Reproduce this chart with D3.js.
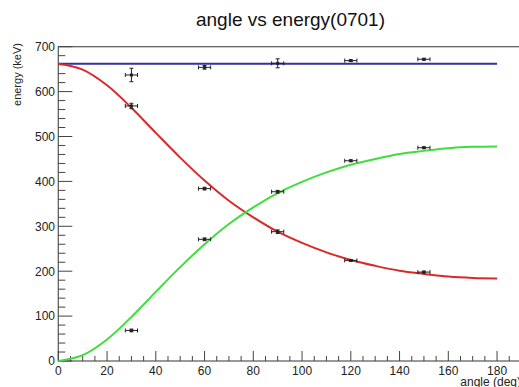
<!DOCTYPE html>
<html><head><meta charset="utf-8">
<script src="https://cdn.jsdelivr.net/npm/d3@7"></script>
<style>body{margin:0;background:#fff;overflow:hidden}svg{display:block;font-family:"Liberation Sans",Arial,sans-serif}</style>
</head><body><svg id="c" width="519" height="387"></svg>
<script>
// measured data points (angle in deg, energy in keV, errors)
const angles   = [30, 30, 30, 60, 60, 60, 90, 90, 90, 120, 120, 120, 150, 150, 150];
const energies = [637, 568, 68, 654, 384, 271, 663, 377, 288, 669, 446, 224, 672, 475, 198];
const angleErr = [2.5, 2.5, 2.5, 2.5, 2.5, 2.5, 2.5, 2.5, 2.5, 2.5, 2.5, 2.5, 2.5, 2.5, 2.5];
const energyErr= [15, 6, 3, 4, 3, 3, 10, 3, 4, 2, 2, 2, 2, 2, 2];
// fitted curves, every 10 deg
const curveAngles = [0,10,20,30,40,50,60,70,80,90,100,110,120,130,140,150,160,170,180];
const redCurve   = [662,649,614,564,508,453,402,357,320,288,263,242,225,212,201,194,188,185,184];
const greenCurve = [0,13,48,98,154,209,260,305,342,374,399,420,437,450,461,468,474,477,478];
const blueCurve  = [662,662,662,662,662,662,662,662,662,662,662,662,662,662,662,662,662,662,662];
const xTicks = [0,20,40,60,80,100,120,140,160,180];
const yTicks = [0,100,200,300,400,500,600,700];

const svg = d3.select("#c");
const x = d3.scaleLinear().domain([0,200]).range([58.3,545.8]);
const y = d3.scaleLinear().domain([0,700]).range([361,46.7]);

svg.append("text").attr("x",290.5).attr("y",26).attr("text-anchor","middle")
  .attr("font-size",19).attr("fill","#111").text("angle vs energy(0701)");

// frame
svg.append("rect").attr("x",x(0)).attr("y",y(700)).attr("width",x(200)-x(0)).attr("height",y(0)-y(700))
  .attr("fill","none").attr("stroke","#555").attr("stroke-width",1.2);

// x axis ticks (inside)
const xMinor = d3.range(0,201,5);
svg.append("g").selectAll("line").data(xMinor).join("line")
  .attr("x1",d=>x(d)).attr("x2",d=>x(d)).attr("y1",y(0))
  .attr("y2",d=>y(0)-(d%20===0?10:5)).attr("stroke","#444").attr("stroke-width",1);
svg.append("g").selectAll("text").data(xTicks).join("text")
  .attr("x",d=>x(d)).attr("y",374.5).attr("text-anchor","middle").attr("font-size",12).attr("fill","#222").text(d=>d);

// y axis ticks (inside)
const yMinor = d3.range(0,701,20);
svg.append("g").selectAll("line").data(yMinor).join("line")
  .attr("y1",d=>y(d)).attr("y2",d=>y(d)).attr("x1",x(0))
  .attr("x2",d=>x(0)+(d%100===0?14:7)).attr("stroke","#444").attr("stroke-width",1);
svg.append("g").selectAll("text").data(yTicks).join("text")
  .attr("x",55).attr("y",d=>y(d)+4.3).attr("text-anchor","end").attr("font-size",12).attr("fill","#222").text(d=>d);

// axis titles
svg.append("text").attr("x",521).attr("y",386).attr("text-anchor","end").attr("font-size",12).attr("fill","#222").text("angle (deg)");
svg.append("text").attr("transform","translate(21,43) rotate(-90)").attr("text-anchor","end")
  .attr("font-size",11).attr("fill","#222").text("energy (keV)");

// curves
const line = d3.line().x(d=>x(d[0])).y(d=>y(d[1])).curve(d3.curveCatmullRom);
[[blueCurve,"#3030a8"],[redCurve,"#d82a2a"],[greenCurve,"#3ede3e"]].forEach(([vals,col])=>{
  svg.append("path").datum(curveAngles.map((a,i)=>[a,vals[i]]))
    .attr("d",line).attr("fill","none").attr("stroke",col).attr("stroke-width",2);
});

// points with error bars
const pts = angles.map((a,i)=>({a,e:energies[i],ea:angleErr[i],ee:energyErr[i]}));
const g = svg.append("g").attr("stroke","#222").attr("stroke-width",1);
pts.forEach(p=>{
  const cx=x(p.a), cy=y(p.e), x1=x(p.a-p.ea), x2=x(p.a+p.ea), y1=y(p.e+p.ee), y2=y(p.e-p.ee);
  g.append("line").attr("x1",x1).attr("x2",x2).attr("y1",cy).attr("y2",cy);
  g.append("line").attr("x1",x1).attr("x2",x1).attr("y1",cy-2).attr("y2",cy+2);
  g.append("line").attr("x1",x2).attr("x2",x2).attr("y1",cy-2).attr("y2",cy+2);
  g.append("line").attr("x1",cx).attr("x2",cx).attr("y1",y1).attr("y2",y2);
  g.append("line").attr("x1",cx-2).attr("x2",cx+2).attr("y1",y1).attr("y2",y1);
  g.append("line").attr("x1",cx-2).attr("x2",cx+2).attr("y1",y2).attr("y2",y2);
  svg.append("rect").attr("x",cx-1.5).attr("y",cy-1.5).attr("width",3).attr("height",3).attr("fill","#222");
});
</script></body></html>
